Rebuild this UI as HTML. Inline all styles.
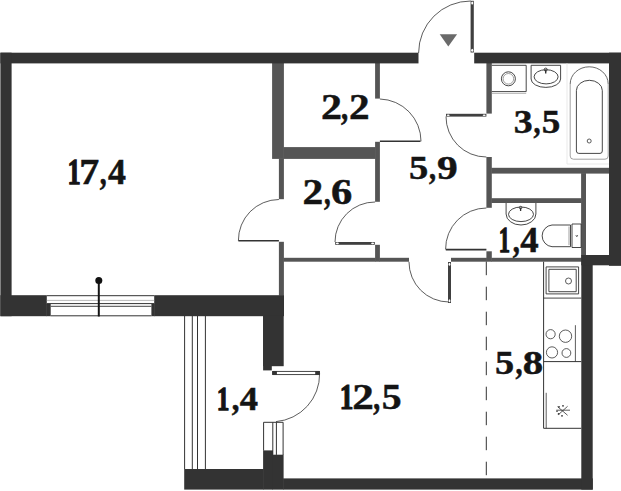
<!DOCTYPE html>
<html><head><meta charset="utf-8"><style>
html,body{margin:0;padding:0;background:#fff;width:621px;height:491px;overflow:hidden}
svg{display:block}
text{font-family:"Liberation Serif",serif;font-weight:bold;fill:#141414;stroke:#141414}
</style></head><body>
<svg width="621" height="491" viewBox="0 0 621 491">
<rect x="272.1" y="63.0" width="11.8" height="95.9" fill="#555555"/>
<rect x="283.4" y="147.1" width="92.2" height="11.8" fill="#555555"/>
<rect x="278.9" y="158.4" width="5.0" height="40.8" fill="#555555"/>
<rect x="278.9" y="241.8" width="5.0" height="53.9" fill="#555555"/>
<rect x="375.1" y="63.0" width="4.8" height="35.6" fill="#555555"/>
<rect x="375.1" y="141.8" width="4.8" height="60.0" fill="#555555"/>
<rect x="375.1" y="244.8" width="4.8" height="16.9" fill="#555555"/>
<rect x="283.4" y="257.8" width="92.2" height="3.9" fill="#555555"/>
<rect x="379.4" y="257.8" width="29.6" height="3.9" fill="#555555"/>
<rect x="451" y="257.8" width="35.9" height="3.9" fill="#555555"/>
<rect x="491.3" y="257.8" width="90.5" height="3.9" fill="#555555"/>
<rect x="486.4" y="63.0" width="5.4" height="50.6" fill="#555555"/>
<rect x="486.4" y="157" width="5.4" height="50.8" fill="#555555"/>
<rect x="486.4" y="251.3" width="5.4" height="10.4" fill="#555555"/>
<rect x="491.3" y="167.8" width="118.1" height="5.8" fill="#555555"/>
<rect x="491.3" y="198.2" width="90.3" height="4.8" fill="#555555"/>
<rect x="581.1" y="173.1" width="4.9" height="82.4" fill="#555555"/>
<rect x="0.4" y="52.7" width="418.1" height="10.7" fill="#333333"/>
<rect x="474.2" y="52.7" width="146.8" height="10.7" fill="#333333"/>
<rect x="0.4" y="52.7" width="11.2" height="263.5" fill="#333333"/>
<rect x="0.4" y="295.2" width="46.4" height="21.0" fill="#333333"/>
<rect x="46.3" y="303.8" width="4.4" height="12.4" fill="#333333"/>
<rect x="154.2" y="295.2" width="129.8" height="21.0" fill="#333333"/>
<rect x="151.4" y="303.8" width="3.3" height="12.4" fill="#333333"/>
<rect x="263.1" y="315.5" width="20.6" height="50.7" fill="#333333"/>
<rect x="263.1" y="315.5" width="8.7" height="54.9" fill="#333333"/>
<rect x="263.1" y="450.4" width="9.9" height="39.2" fill="#333333"/>
<rect x="272.5" y="454.7" width="11.1" height="34.9" fill="#333333"/>
<rect x="184.2" y="469" width="79.4" height="20.6" fill="#333333"/>
<rect x="283.1" y="478.4" width="309.7" height="11.2" fill="#333333"/>
<rect x="581.3" y="255" width="11.4" height="234.6" fill="#333333"/>
<rect x="581.3" y="255" width="39.7" height="10.3" fill="#333333"/>
<rect x="609.0" y="52.7" width="12.0" height="213.1" fill="#333333"/>
<path d="M46.8,295.7 H154.2" fill="none" stroke="#333333" stroke-width="1" />
<path d="M46.8,300.4 H154.2" fill="none" stroke="#aaaaaa" stroke-width="0.8" />
<path d="M46.8,303.6 H154.2" fill="none" stroke="#333333" stroke-width="1" />
<path d="M50.7,306.3 H151.4" fill="none" stroke="#333333" stroke-width="0.9" />
<path d="M50.7,315.8 H151.4" fill="none" stroke="#333333" stroke-width="1" />
<path d="M98.8,281 V316.5" fill="none" stroke="#151515" stroke-width="2" />
<circle cx="98.8" cy="280.6" r="3.5" fill="#111"/>
<path d="M184.6,316 V469" fill="none" stroke="#333333" stroke-width="1" />
<path d="M192.3,316 V469" fill="none" stroke="#333333" stroke-width="1" />
<path d="M197.5,316 V469" fill="none" stroke="#333333" stroke-width="1" />
<path d="M205.4,316 V469" fill="none" stroke="#333333" stroke-width="1" />
<path d="M379.9,99 A42.3,42.3 0 0 1 421,141.3" fill="none" stroke="#333333" stroke-width="0.8" />
<path d="M379.9,141.3 H420.5" fill="none" stroke="#333333" stroke-width="1.6" />
<path d="M278.9,199.5 A40.8,40.8 0 0 0 238.4,240.8" fill="none" stroke="#333333" stroke-width="0.8" />
<path d="M238.4,240.8 H278.9" fill="none" stroke="#333333" stroke-width="1.6" />
<path d="M375.1,202 A40,40 0 0 0 335,242" fill="none" stroke="#333333" stroke-width="0.8" />
<rect x="335.2" y="242.0" width="39.6" height="2.8" fill="#404040"/>
<ellipse cx="337.40" cy="243.40" rx="1.5" ry="0.80" fill="#fff"/>
<ellipse cx="372.60" cy="243.40" rx="1.5" ry="0.80" fill="#fff"/>
<path d="M470.8,1 A52,52 0 0 0 418.6,53" fill="none" stroke="#333333" stroke-width="0.8" />
<rect x="470.6" y="0.8" width="3.2" height="51.7" fill="#404040"/>
<ellipse cx="472.20" cy="3.00" rx="1.00" ry="1.5" fill="#fff"/>
<ellipse cx="472.20" cy="50.30" rx="1.00" ry="1.5" fill="#fff"/>
<path d="M439.7,34.2 H457.1 L448.3,46.4 Z" fill="#6a6a6a"/>
<path d="M446,116.5 A40.3,40.3 0 0 0 486.4,157" fill="none" stroke="#333333" stroke-width="0.8" />
<rect x="446.0" y="113.8" width="40.4" height="2.8" fill="#404040"/>
<ellipse cx="448.20" cy="115.20" rx="1.5" ry="0.80" fill="#fff"/>
<ellipse cx="484.20" cy="115.20" rx="1.5" ry="0.80" fill="#fff"/>
<path d="M486.4,208 A41,41 0 0 0 445.6,249.4" fill="none" stroke="#333333" stroke-width="0.8" />
<path d="M445.8,249.6 H486.4" fill="none" stroke="#333333" stroke-width="1.6" />
<path d="M409,261.8 A40,40 0 0 0 449,302" fill="none" stroke="#333333" stroke-width="0.8" />
<rect x="448.0" y="262.0" width="3.0" height="41.0" fill="#404040"/>
<ellipse cx="449.50" cy="264.20" rx="0.90" ry="1.5" fill="#fff"/>
<ellipse cx="449.50" cy="300.80" rx="0.90" ry="1.5" fill="#fff"/>
<path d="M272.7,371.45 H319.4 V374.55 H272.7 Z" fill="none" stroke="#333333" stroke-width="0.9" />
<rect x="272.2" y="371" width="4.7" height="3.9" fill="#333"/>
<rect x="315.2" y="371" width="4.7" height="3.9" fill="#333"/>
<path d="M319.6,373.5 A47.5,47.5 0 0 1 276,421.6" fill="none" stroke="#333333" stroke-width="0.8" />
<path d="M263.6,450.6 V422.3 H283.1 V455" fill="none" stroke="#333333" stroke-width="1" />
<path d="M272.8,422.3 V454.9" fill="none" stroke="#333333" stroke-width="1" />
<path d="M276.4,422.3 V454.9" fill="none" stroke="#333333" stroke-width="1" />
<path d="M486.3,261.7 V478.4" fill="none" stroke="#333333" stroke-width="1" stroke-dasharray="13.5 11.5"/>
<path d="M491.8,65.3 H526.2 V91.6 H491.8" fill="none" stroke="#333333" stroke-width="0.9" />
<path d="M491.8,93.4 H526.2" fill="none" stroke="#999" stroke-width="0.7" />
<circle cx="508.4" cy="78.8" r="7" fill="none" stroke="#333333" stroke-width="0.9"/>
<circle cx="508.4" cy="78.8" r="5.3" fill="none" stroke="#777" stroke-width="0.7"/>
<path d="M531.1,65.3 H560.6 V79 A14.75,8.4 0 0 1 531.1,79 Z" fill="none" stroke="#333333" stroke-width="0.9" />
<ellipse cx="546.1" cy="76.8" rx="12" ry="7.1" fill="none" stroke="#333333" stroke-width="0.9"/>
<path d="M545.7,70 V73.5" fill="none" stroke="#333333" stroke-width="1.4" />
<circle cx="545.7" cy="69.6" r="1.5" fill="none" stroke="#333333" stroke-width="0.9"/>
<path d="M567,63.4 V164 H609" fill="none" stroke="#e6e6e6" stroke-width="0.9" />
<path d="M570.2,84 V156 Q570.2,159.2 573.4,159.2 H605 Q608.2,159.2 608.2,156 V84" fill="none" stroke="#8a8a8a" stroke-width="0.8" />
<path d="M570.2,84 A19,17.2 0 0 1 608.2,84" fill="none" stroke="#444" stroke-width="0.8" />
<path d="M576.4,151 V90.5 A12.95,10.2 0 0 1 602.3,90.5 V151 Q602.3,153.4 600,153.4 H578.8 Q576.4,153.4 576.4,151 Z" fill="none" stroke="#333333" stroke-width="0.9" />
<circle cx="589.2" cy="141" r="2" fill="none" stroke="#333333" stroke-width="0.8"/>
<path d="M506.1,203 V214 A14.9,11 0 0 0 535.9,214 V203" fill="none" stroke="#333333" stroke-width="0.9" />
<ellipse cx="521" cy="214.3" rx="12.5" ry="7.3" fill="none" stroke="#333333" stroke-width="0.9"/>
<path d="M520.6,208 V211" fill="none" stroke="#333333" stroke-width="1.3" />
<circle cx="520.6" cy="207.6" r="1.3" fill="none" stroke="#333333" stroke-width="0.8"/>
<path d="M570.5,225 H552 A10.9,10.9 0 0 0 552,246.7 H570.5 Z" fill="none" stroke="#333333" stroke-width="0.9" />
<path d="M569,226.5 V245.2" fill="none" stroke="#777" stroke-width="0.7" />
<path d="M572,224 H581.1 V247.5 H572 Z" fill="none" stroke="#333333" stroke-width="0.9" />
<path d="M575.8,235 l1,1.8 l1,-1.8" fill="none" stroke="#333333" stroke-width="0.7" />
<path d="M543.6,261.7 V428.3 H581.3" fill="none" stroke="#333333" stroke-width="1" />
<path d="M543.6,298.1 H581.3" fill="none" stroke="#333333" stroke-width="0.9" />
<path d="M546.1,266.9 H578.6 V293.9 H546.1 Z" fill="none" stroke="#333333" stroke-width="0.9" />
<path d="M548.9,269.3 H576.2 V291.7 H548.9 Z" fill="none" stroke="#333333" stroke-width="0.9" />
<circle cx="568.5" cy="281" r="3" fill="none" stroke="#333333" stroke-width="0.8"/>
<path d="M543.6,361.6 H581.3" fill="none" stroke="#333333" stroke-width="1" />
<path d="M575.4,325.2 V361.6" fill="none" stroke="#333333" stroke-width="0.8" />
<circle cx="550.6" cy="334.2" r="4.6" fill="none" stroke="#333333" stroke-width="0.8"/>
<circle cx="565.5" cy="336.2" r="6.2" fill="none" stroke="#333333" stroke-width="0.8"/>
<circle cx="552" cy="352.4" r="5.6" fill="none" stroke="#333333" stroke-width="0.8"/>
<circle cx="566.4" cy="353" r="4.4" fill="none" stroke="#333333" stroke-width="0.8"/>
<path d="M546.2,392.8 V428.3" fill="none" stroke="#333333" stroke-width="0.8" />
<path d="M556.3,410.2 H570 M557.5,406.6 L567.6,415.3 M567.6,406.3 L558.6,414.5" fill="none" stroke="#333333" stroke-width="0.8" />
<circle cx="563" cy="405.8" r="0.9" fill="#333"/><circle cx="559" cy="406.8" r="0.9" fill="#333"/><circle cx="557" cy="411.2" r="0.8" fill="#333"/><circle cx="558.6" cy="413.9" r="0.9" fill="#333"/><circle cx="562" cy="415.8" r="0.9" fill="#333"/>
<text transform="translate(67.54,183.90) scale(0.737,1)" font-size="35.75" stroke-width="1.1" vector-effect="non-scaling-stroke">1</text>
<text transform="translate(79.27,183.90) scale(1.116,1)" font-size="35.75" stroke-width="0.5" vector-effect="non-scaling-stroke">7</text>
<text transform="translate(99.79,183.90) scale(0.774,1)" font-size="35.75" stroke-width="0.5" vector-effect="non-scaling-stroke">,</text>
<text transform="translate(108.06,183.90) scale(1.005,1)" font-size="35.75" stroke-width="0.5" vector-effect="non-scaling-stroke">4</text>
<text transform="translate(321.09,118.50) scale(1.196,1)" font-size="35.04" stroke-width="0.5" vector-effect="non-scaling-stroke">2</text>
<text transform="translate(340.97,118.50) scale(0.819,1)" font-size="35.04" stroke-width="0.5" vector-effect="non-scaling-stroke">,</text>
<text transform="translate(348.92,118.50) scale(1.176,1)" font-size="35.04" stroke-width="0.5" vector-effect="non-scaling-stroke">2</text>
<text transform="translate(302.41,204.16) scale(1.185,1)" font-size="34.98" stroke-width="0.5" vector-effect="non-scaling-stroke">2</text>
<text transform="translate(323.90,204.16) scale(0.762,1)" font-size="34.98" stroke-width="0.5" vector-effect="non-scaling-stroke">,</text>
<text transform="translate(330.89,204.16) scale(1.218,1)" font-size="34.98" stroke-width="0.5" vector-effect="non-scaling-stroke">6</text>
<text transform="translate(409.01,178.67) scale(1.150,1)" font-size="33.49" stroke-width="0.5" vector-effect="non-scaling-stroke">5</text>
<text transform="translate(429.08,178.67) scale(0.841,1)" font-size="33.49" stroke-width="0.5" vector-effect="non-scaling-stroke">,</text>
<text transform="translate(437.02,178.67) scale(1.238,1)" font-size="33.49" stroke-width="0.5" vector-effect="non-scaling-stroke">9</text>
<text transform="translate(513.73,133.17) scale(1.115,1)" font-size="33.93" stroke-width="0.5" vector-effect="non-scaling-stroke">3</text>
<text transform="translate(533.58,133.17) scale(0.830,1)" font-size="33.93" stroke-width="0.5" vector-effect="non-scaling-stroke">,</text>
<text transform="translate(541.67,133.17) scale(1.093,1)" font-size="33.93" stroke-width="0.5" vector-effect="non-scaling-stroke">5</text>
<text transform="translate(498.64,252.00) scale(0.647,1)" font-size="34.84" stroke-width="1.1" vector-effect="non-scaling-stroke">1</text>
<text transform="translate(512.78,252.00) scale(0.809,1)" font-size="34.84" stroke-width="0.5" vector-effect="non-scaling-stroke">,</text>
<text transform="translate(520.35,252.00) scale(1.055,1)" font-size="34.84" stroke-width="0.5" vector-effect="non-scaling-stroke">4</text>
<text transform="translate(495.12,373.68) scale(1.158,1)" font-size="33.05" stroke-width="0.5" vector-effect="non-scaling-stroke">5</text>
<text transform="translate(515.58,373.68) scale(0.853,1)" font-size="33.05" stroke-width="0.5" vector-effect="non-scaling-stroke">,</text>
<text transform="translate(522.79,373.68) scale(1.235,1)" font-size="33.05" stroke-width="0.5" vector-effect="non-scaling-stroke">8</text>
<text transform="translate(339.67,408.66) scale(0.777,1)" font-size="34.98" stroke-width="1.1" vector-effect="non-scaling-stroke">1</text>
<text transform="translate(352.14,408.66) scale(1.233,1)" font-size="34.98" stroke-width="0.5" vector-effect="non-scaling-stroke">2</text>
<text transform="translate(373.29,408.66) scale(0.791,1)" font-size="34.98" stroke-width="0.5" vector-effect="non-scaling-stroke">,</text>
<text transform="translate(381.66,408.66) scale(1.135,1)" font-size="34.98" stroke-width="0.5" vector-effect="non-scaling-stroke">5</text>
<text transform="translate(216.83,409.50) scale(0.731,1)" font-size="34.54" stroke-width="1.1" vector-effect="non-scaling-stroke">1</text>
<text transform="translate(231.65,409.50) scale(0.889,1)" font-size="34.54" stroke-width="0.5" vector-effect="non-scaling-stroke">,</text>
<text transform="translate(239.85,409.50) scale(1.058,1)" font-size="34.54" stroke-width="0.5" vector-effect="non-scaling-stroke">4</text>
</svg>
</body></html>
